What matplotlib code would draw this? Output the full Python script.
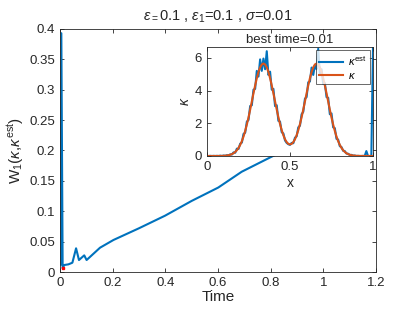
import numpy as np
import matplotlib
matplotlib.use("Agg")
import matplotlib.pyplot as plt

plt.rcParams['font.family'] = ['Liberation Sans', 'DejaVu Sans']
plt.rcParams['mathtext.fontset'] = 'custom'
plt.rcParams['mathtext.rm'] = 'Liberation Sans'
plt.rcParams['mathtext.it'] = 'Liberation Sans:italic'
plt.rcParams['mathtext.default'] = 'it'

# Main series: W1 distance over time
time = [0.002, 0.005, 0.01, 0.016, 0.032, 0.047, 0.061, 0.072, 0.092, 0.101,
        0.152, 0.203, 0.30, 0.399, 0.5, 0.601, 0.69, 0.80, 0.9, 1.0, 1.1, 1.18]
w1 = [0.012, 0.393, 0.006, 0.0115, 0.0126, 0.0153, 0.039, 0.0197, 0.0274, 0.0197,
      0.040, 0.0527, 0.072, 0.0927, 0.117, 0.139, 0.165, 0.189, 0.21, 0.235, 0.255, 0.27]
best_time = 0.01
best_w1 = 0.006

# Inset: kappa profiles on grid x = 0..1 step 0.01
x_grid = [round(0.01 * i, 2) for i in range(101)]
kappa = [0, 0, 0, 0, 0, 0.001, 0.001, 0.002, 0.004, 0.007,
         0.011, 0.019, 0.030, 0.048, 0.075, 0.114, 0.170, 0.248, 0.355, 0.496,
         0.679, 0.909, 1.19, 1.53, 1.92, 2.35, 2.83, 3.33, 3.83, 4.31,
         4.75, 5.13, 5.41, 5.59, 5.65, 5.59, 5.41, 5.13, 4.75, 4.31,
         3.83, 3.33, 2.84, 2.37, 1.95, 1.58, 1.27, 1.02, 0.85, 0.74,
         0.71, 0.74, 0.85, 1.02, 1.27, 1.58, 1.95, 2.37, 2.84, 3.33,
         3.83, 4.31, 4.75, 5.13, 5.41, 5.59, 5.65, 5.59, 5.41, 5.13,
         4.75, 4.31, 3.83, 3.33, 2.83, 2.35, 1.92, 1.53, 1.19, 0.909,
         0.679, 0.496, 0.355, 0.248, 0.170, 0.114, 0.075, 0.048, 0.030, 0.019,
         0.011, 0.007, 0.004, 0.002, 0.001, 0.001, 0, 0, 0, 0, 0]
kappa_est = [0.00, 0.00, 0.01, 0.00, 0.01, 0.00, 0.01, 0.00, 0.02, 0.00,
             0.03, 0.01, 0.05, 0.03, 0.10, 0.09, 0.22, 0.20, 0.45, 0.43,
             0.75, 0.82, 1.35, 1.42, 2.10, 2.20, 3.05, 3.10, 4.05, 4.10,
             5.20, 4.85, 5.90, 5.20, 5.95, 5.30, 6.40, 4.95, 5.15, 4.05,
             4.10, 3.05, 3.10, 2.15, 2.10, 1.45, 1.38, 0.95, 0.80, 0.72,
             0.68, 0.80, 0.78, 1.12, 1.20, 1.75, 1.85, 2.55, 2.70, 3.50,
             3.60, 4.50, 4.55, 5.40, 4.95, 5.55, 5.30, 6.55, 5.00, 5.30,
             4.40, 4.45, 3.60, 3.55, 2.55, 2.60, 1.75, 1.70, 1.05, 1.00,
             0.60, 0.55, 0.32, 0.30, 0.15, 0.14, 0.06, 0.07, 0.02, 0.03,
             0.00, 0.01, 0.00, 0.00, 0.01, 0.00, 0.30, 0.00, 0.00, 0.00, 6.65]

BLUE = '#0072BD'
ORANGE = '#D95319'
DARK = '#262626'

fig = plt.figure(figsize=(4.15, 3.12), dpi=100)

ax = fig.add_axes([0.1446, 0.1282, 0.7614, 0.779])
ax.plot(time, w1, color=BLUE, lw=1.5)
ax.plot([best_time], [best_w1], 's', color='red', ms=1.8, mec='red')
ax.set_xlim(0, 1.2)
ax.set_ylim(0, 0.4)
ax.set_xticks([0, 0.2, 0.4, 0.6, 0.8, 1.0, 1.2])
ax.set_xticklabels(['0', '0.2', '0.4', '0.6', '0.8', '1', '1.2'])
ax.set_yticks([0, 0.05, 0.1, 0.15, 0.2, 0.25, 0.3, 0.35, 0.4])
ax.set_yticklabels(['0', '0.05', '0.1', '0.15', '0.2', '0.25', '0.3', '0.35', '0.4'])
ax.tick_params(direction='in', top=True, right=True, labelsize=9.5,
               colors=DARK, length=3, width=0.6)
for s in ax.spines.values():
    s.set_color(DARK)
    s.set_linewidth(0.6)
ax.set_xlabel('Time', fontsize=11, color=DARK, labelpad=1)
ax.set_ylabel(r'$\mathrm{W}_{\mathrm{1}}\mathrm{(}\kappa\mathrm{,}\kappa^{\mathrm{est}}\mathrm{)}$',
              fontsize=11, color=DARK, labelpad=2)
ax.set_title(r'$\epsilon_{\mathrm{=}}$0.1 , $\epsilon_{\mathrm{1}}$=0.1 , $\sigma$=0.01',
             fontsize=10.5, color=DARK, pad=6)

ins = fig.add_axes([0.4988, 0.5, 0.4, 0.349])
ins.plot(x_grid, kappa_est, color=BLUE, lw=1.5, label=r'$\kappa^{\mathrm{est}}$')
ins.plot(x_grid, kappa, color=ORANGE, lw=1.5, label=r'$\kappa$')
ins.set_xlim(0, 1)
ins.set_ylim(0, max(kappa_est))
ins.set_xticks([0, 0.5, 1])
ins.set_xticklabels(['0', '0.5', '1'])
ins.set_yticks([0, 2, 4, 6])
ins.tick_params(direction='in', top=True, right=True, labelsize=9.5,
                colors=DARK, length=3, width=0.6)
for s in ins.spines.values():
    s.set_color(DARK)
    s.set_linewidth(0.6)
ins.set_xlabel('x', fontsize=10, color=DARK, labelpad=2)
ins.set_ylabel(r'$\kappa$', fontsize=10, color=DARK, labelpad=2)
ins.set_title('best time=0.01', fontsize=9.5, color=DARK, pad=3)
leg = ins.legend(loc='upper right', fontsize=8, frameon=True, fancybox=False,
                 borderpad=0.3, handlelength=2.2, handletextpad=0.4,
                 labelspacing=0.3, borderaxespad=0.3)
leg.get_frame().set_edgecolor(DARK)
leg.get_frame().set_linewidth(0.6)

fig.savefig('out.png', dpi=100)
